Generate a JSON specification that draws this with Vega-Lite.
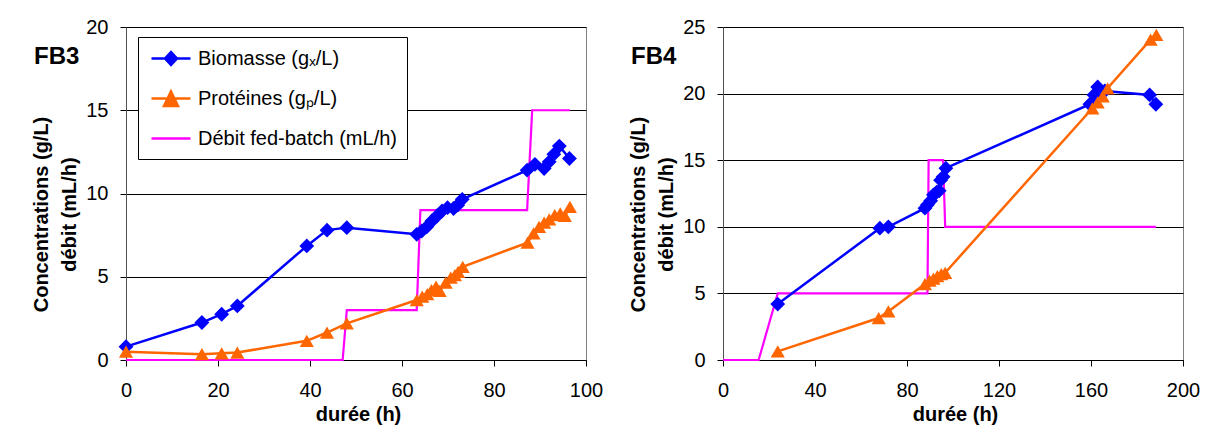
{
  "$schema": "https://vega.github.io/schema/vega-lite/v6.json",
  "padding": {"left": 30, "top": 16, "right": 0, "bottom": 0},
  "bounds": "flush",
  "spacing": 137,
  "config": {
    "font": "Liberation Sans",
    "view": {"stroke": "#808080", "strokeWidth": 1},
    "axis": {"labelFontSize": 20, "titleFontSize": 20, "titleFontWeight": "bold", "labelColor": "black", "titleColor": "black", "domainColor": "black", "tickColor": "black", "gridColor": "black", "gridOpacity": 1, "gridWidth": 1, "tickSize": 6, "labelFont": "Liberation Sans", "titleFont": "Liberation Sans"}
  },
  "data": {"values": [
    {"p": "FB3", "s": "Biomasse", "t": 0, "v": 0.8},
    {"p": "FB3", "s": "Biomasse", "t": 16.5, "v": 2.25},
    {"p": "FB3", "s": "Biomasse", "t": 20.8, "v": 2.75},
    {"p": "FB3", "s": "Biomasse", "t": 24.2, "v": 3.25},
    {"p": "FB3", "s": "Biomasse", "t": 39.3, "v": 6.85},
    {"p": "FB3", "s": "Biomasse", "t": 43.7, "v": 7.8},
    {"p": "FB3", "s": "Biomasse", "t": 48.0, "v": 7.95},
    {"p": "FB3", "s": "Biomasse", "t": 63.2, "v": 7.55},
    {"p": "FB3", "s": "Biomasse", "t": 64.3, "v": 7.75},
    {"p": "FB3", "s": "Biomasse", "t": 65.4, "v": 8.0},
    {"p": "FB3", "s": "Biomasse", "t": 66.5, "v": 8.35},
    {"p": "FB3", "s": "Biomasse", "t": 67.6, "v": 8.65},
    {"p": "FB3", "s": "Biomasse", "t": 68.7, "v": 8.95},
    {"p": "FB3", "s": "Biomasse", "t": 69.9, "v": 9.15},
    {"p": "FB3", "s": "Biomasse", "t": 71.2, "v": 9.1},
    {"p": "FB3", "s": "Biomasse", "t": 72.1, "v": 9.3},
    {"p": "FB3", "s": "Biomasse", "t": 73.1, "v": 9.65},
    {"p": "FB3", "s": "Biomasse", "t": 87.2, "v": 11.4},
    {"p": "FB3", "s": "Biomasse", "t": 88.9, "v": 11.75},
    {"p": "FB3", "s": "Biomasse", "t": 90.9, "v": 11.5},
    {"p": "FB3", "s": "Biomasse", "t": 92.0, "v": 11.9},
    {"p": "FB3", "s": "Biomasse", "t": 93.0, "v": 12.35},
    {"p": "FB3", "s": "Biomasse", "t": 94.2, "v": 12.85},
    {"p": "FB3", "s": "Biomasse", "t": 96.4, "v": 12.1},
    {"p": "FB3", "s": "Protéines", "t": 0, "v": 0.5},
    {"p": "FB3", "s": "Protéines", "t": 16.5, "v": 0.35},
    {"p": "FB3", "s": "Protéines", "t": 20.8, "v": 0.4},
    {"p": "FB3", "s": "Protéines", "t": 24.2, "v": 0.45},
    {"p": "FB3", "s": "Protéines", "t": 39.3, "v": 1.15},
    {"p": "FB3", "s": "Protéines", "t": 43.7, "v": 1.65},
    {"p": "FB3", "s": "Protéines", "t": 48.0, "v": 2.2},
    {"p": "FB3", "s": "Protéines", "t": 63.2, "v": 3.6},
    {"p": "FB3", "s": "Protéines", "t": 64.4, "v": 3.8},
    {"p": "FB3", "s": "Protéines", "t": 65.5, "v": 3.95},
    {"p": "FB3", "s": "Protéines", "t": 66.4, "v": 4.2},
    {"p": "FB3", "s": "Protéines", "t": 67.4, "v": 4.4},
    {"p": "FB3", "s": "Protéines", "t": 68.2, "v": 4.15},
    {"p": "FB3", "s": "Protéines", "t": 69.5, "v": 4.65},
    {"p": "FB3", "s": "Protéines", "t": 70.6, "v": 4.95},
    {"p": "FB3", "s": "Protéines", "t": 71.5, "v": 5.1},
    {"p": "FB3", "s": "Protéines", "t": 72.2, "v": 5.3},
    {"p": "FB3", "s": "Protéines", "t": 73.2, "v": 5.6},
    {"p": "FB3", "s": "Protéines", "t": 87.3, "v": 7.05},
    {"p": "FB3", "s": "Protéines", "t": 88.6, "v": 7.6},
    {"p": "FB3", "s": "Protéines", "t": 89.8, "v": 8.0},
    {"p": "FB3", "s": "Protéines", "t": 90.9, "v": 8.25},
    {"p": "FB3", "s": "Protéines", "t": 92.0, "v": 8.45},
    {"p": "FB3", "s": "Protéines", "t": 93.2, "v": 8.7},
    {"p": "FB3", "s": "Protéines", "t": 94.4, "v": 8.8},
    {"p": "FB3", "s": "Protéines", "t": 95.4, "v": 8.65},
    {"p": "FB3", "s": "Protéines", "t": 96.5, "v": 9.2},
    {"p": "FB3", "s": "Débit", "t": 0, "v": 0},
    {"p": "FB3", "s": "Débit", "t": 47.1, "v": 0},
    {"p": "FB3", "s": "Débit", "t": 48.0, "v": 3},
    {"p": "FB3", "s": "Débit", "t": 63.2, "v": 3},
    {"p": "FB3", "s": "Débit", "t": 64.0, "v": 9},
    {"p": "FB3", "s": "Débit", "t": 87.2, "v": 9},
    {"p": "FB3", "s": "Débit", "t": 88.3, "v": 15},
    {"p": "FB3", "s": "Débit", "t": 96.5, "v": 15},
    {"p": "FB4", "s": "Biomasse", "t": 23.8, "v": 4.2},
    {"p": "FB4", "s": "Biomasse", "t": 68.2, "v": 9.9},
    {"p": "FB4", "s": "Biomasse", "t": 71.9, "v": 10.0},
    {"p": "FB4", "s": "Biomasse", "t": 87.8, "v": 11.4},
    {"p": "FB4", "s": "Biomasse", "t": 88.9, "v": 11.65},
    {"p": "FB4", "s": "Biomasse", "t": 90.3, "v": 11.95},
    {"p": "FB4", "s": "Biomasse", "t": 91.5, "v": 12.4},
    {"p": "FB4", "s": "Biomasse", "t": 92.9, "v": 12.6},
    {"p": "FB4", "s": "Biomasse", "t": 94.0, "v": 12.7},
    {"p": "FB4", "s": "Biomasse", "t": 94.6, "v": 13.5},
    {"p": "FB4", "s": "Biomasse", "t": 95.7, "v": 13.75},
    {"p": "FB4", "s": "Biomasse", "t": 96.9, "v": 14.4},
    {"p": "FB4", "s": "Biomasse", "t": 159.5, "v": 19.2},
    {"p": "FB4", "s": "Biomasse", "t": 161.3, "v": 19.9},
    {"p": "FB4", "s": "Biomasse", "t": 162.9, "v": 20.5},
    {"p": "FB4", "s": "Biomasse", "t": 166.0, "v": 20.2},
    {"p": "FB4", "s": "Biomasse", "t": 185.5, "v": 19.9},
    {"p": "FB4", "s": "Biomasse", "t": 188.2, "v": 19.2},
    {"p": "FB4", "s": "Protéines", "t": 23.8, "v": 0.65},
    {"p": "FB4", "s": "Protéines", "t": 67.7, "v": 3.15},
    {"p": "FB4", "s": "Protéines", "t": 71.9, "v": 3.65},
    {"p": "FB4", "s": "Protéines", "t": 87.8, "v": 5.7},
    {"p": "FB4", "s": "Protéines", "t": 89.8, "v": 5.95},
    {"p": "FB4", "s": "Protéines", "t": 91.5, "v": 6.1},
    {"p": "FB4", "s": "Protéines", "t": 93.2, "v": 6.3},
    {"p": "FB4", "s": "Protéines", "t": 94.9, "v": 6.45},
    {"p": "FB4", "s": "Protéines", "t": 96.6, "v": 6.55},
    {"p": "FB4", "s": "Protéines", "t": 160.6, "v": 18.9},
    {"p": "FB4", "s": "Protéines", "t": 162.9, "v": 19.35},
    {"p": "FB4", "s": "Protéines", "t": 165.1, "v": 19.8},
    {"p": "FB4", "s": "Protéines", "t": 167.2, "v": 20.4},
    {"p": "FB4", "s": "Protéines", "t": 185.9, "v": 24.05},
    {"p": "FB4", "s": "Protéines", "t": 188.4, "v": 24.4},
    {"p": "FB4", "s": "Débit", "t": 0, "v": 0},
    {"p": "FB4", "s": "Débit", "t": 15.5, "v": 0},
    {"p": "FB4", "s": "Débit", "t": 23.8, "v": 5},
    {"p": "FB4", "s": "Débit", "t": 88.9, "v": 5},
    {"p": "FB4", "s": "Débit", "t": 89.4, "v": 15},
    {"p": "FB4", "s": "Débit", "t": 95.7, "v": 15},
    {"p": "FB4", "s": "Débit", "t": 96.6, "v": 10},
    {"p": "FB4", "s": "Débit", "t": 188.2, "v": 10}
  ]},
  "resolve": {"scale": {"fill": "independent", "stroke": "independent", "shape": "independent", "color": "independent"}, "legend": {"fill": "independent", "stroke": "independent", "shape": "independent", "color": "independent"}},
  "hconcat": [
    {
      "width": 460,
      "height": 333,
      "title": {"text": "FB3", "anchor": "start", "frame": "group", "orient": "top", "offset": 0, "dx": -92, "dy": 71, "fontSize": 24, "fontWeight": "bold", "color": "black", "baseline": "alphabetic"},
      "transform": [{"filter": "datum.p === 'FB3'"}],
      "encoding": {
        "x": {"field": "t", "type": "quantitative", "scale": {"domain": [0, 100], "nice": false}, "axis": {"values": [0, 20, 40, 60, 80, 100], "title": "durée (h)", "grid": false, "labelPadding": 14, "titleX": 232, "titleY": 60, "titleBaseline": "alphabetic", "labelFlush": false}},
        "y": {"field": "v", "type": "quantitative", "scale": {"domain": [0, 20], "nice": false}, "axis": {"values": [0, 5, 10, 15, 20], "title": ["Concentrations (g/L)", "débit (mL/h)"], "grid": true, "labelPadding": 12, "titleX": -85, "titleY": 187, "titleAngle": 270, "titleAlign": "center", "titleBaseline": "middle", "titleLineHeight": 28, "domainColor": "#505050"}}
      },
      "layer": [
        {"transform": [{"filter": "datum.s === 'Débit'"}], "mark": {"type": "line", "color": "#FF00FF", "strokeWidth": 2.2}, "encoding": {}},
        {"transform": [{"filter": "datum.s === 'Biomasse'"}], "mark": {"type": "line", "color": "#0000FF", "strokeWidth": 2.5}, "encoding": {}},
        {"transform": [{"filter": "datum.s === 'Protéines'"}], "mark": {"type": "line", "color": "#FF6600", "strokeWidth": 2.5}, "encoding": {}},
        {"transform": [{"filter": "datum.s === 'Biomasse'"}], "mark": {"type": "point", "shape": "diamond", "filled": true, "size": 220, "color": "#0000FF", "opacity": 1}},
        {"transform": [{"filter": "datum.s === 'Protéines'"}], "mark": {"type": "point", "shape": "triangle-up", "filled": true, "size": 200, "color": "#FF6600", "opacity": 1}},
        {
          "mark": {"type": "point", "filled": true, "opacity": 0, "strokeWidth": 2.5},
          "encoding": {
            "fill": {"field": "s", "type": "nominal", "scale": {"domain": ["Biomasse", "Protéines", "Débit"], "range": ["#0000FF", "#FF6600", "#FF00FF"]}},
            "stroke": {"field": "s", "type": "nominal", "scale": {"domain": ["Biomasse", "Protéines", "Débit"], "range": ["#0000FF", "#FF6600", "#FF00FF"]}},
            "shape": {"field": "s", "type": "nominal", "scale": {"domain": ["Biomasse", "Protéines", "Débit"], "range": ["M-0.8,0H3.1M1.15,-0.65L1.75,0L1.15,0.65L0.55,0Z", "M-0.8,0H3.1M1.15,-0.7L1.85,0.75L0.45,0.75Z", "M-0.8,0H3.1"]},
              "legend": {"orient": "none", "legendX": 12, "legendY": 10, "title": null, "padding": 10, "strokeColor": "black", "fillColor": "white", "symbolSize": 400, "symbolStrokeWidth": 2.5, "symbolOpacity": 1, "labelOffset": 27, "rowPadding": 16, "labelFontSize": 20, "labelColor": "black", "labelLimit": 400, "cornerRadius": 0,
                "labelExpr": "datum.label === 'Biomasse' ? 'Biomasse (gₓ/L)' : datum.label === 'Protéines' ? 'Protéines (gₚ/L)' : 'Débit fed-batch (mL/h)'"}}
          }
        }
      ]
    },
    {
      "width": 460,
      "height": 333,
      "title": {"text": "FB4", "anchor": "start", "frame": "group", "orient": "top", "offset": 0, "dx": -92, "dy": 71, "fontSize": 24, "fontWeight": "bold", "color": "black", "baseline": "alphabetic"},
      "transform": [{"filter": "datum.p === 'FB4'"}],
      "encoding": {
        "x": {"field": "t", "type": "quantitative", "scale": {"domain": [0, 200], "nice": false}, "axis": {"values": [0, 40, 80, 120, 160, 200], "title": "durée (h)", "grid": false, "labelPadding": 14, "titleX": 232, "titleY": 60, "titleBaseline": "alphabetic", "labelFlush": false}},
        "y": {"field": "v", "type": "quantitative", "scale": {"domain": [0, 25], "nice": false}, "axis": {"values": [0, 5, 10, 15, 20, 25], "title": ["Concentrations (g/L)", "débit (mL/h)"], "grid": true, "labelPadding": 12, "titleX": -85, "titleY": 187, "titleAngle": 270, "titleAlign": "center", "titleBaseline": "middle", "titleLineHeight": 28, "domainColor": "#505050"}}
      },
      "layer": [
        {"transform": [{"filter": "datum.s === 'Débit'"}], "mark": {"type": "line", "color": "#FF00FF", "strokeWidth": 2.2}, "encoding": {}},
        {"transform": [{"filter": "datum.s === 'Biomasse'"}], "mark": {"type": "line", "color": "#0000FF", "strokeWidth": 2.5}, "encoding": {}},
        {"transform": [{"filter": "datum.s === 'Protéines'"}], "mark": {"type": "line", "color": "#FF6600", "strokeWidth": 2.5}, "encoding": {}},
        {"transform": [{"filter": "datum.s === 'Biomasse'"}], "mark": {"type": "point", "shape": "diamond", "filled": true, "size": 220, "color": "#0000FF", "opacity": 1}},
        {"transform": [{"filter": "datum.s === 'Protéines'"}], "mark": {"type": "point", "shape": "triangle-up", "filled": true, "size": 200, "color": "#FF6600", "opacity": 1}}
      ]
    }
  ]
}
